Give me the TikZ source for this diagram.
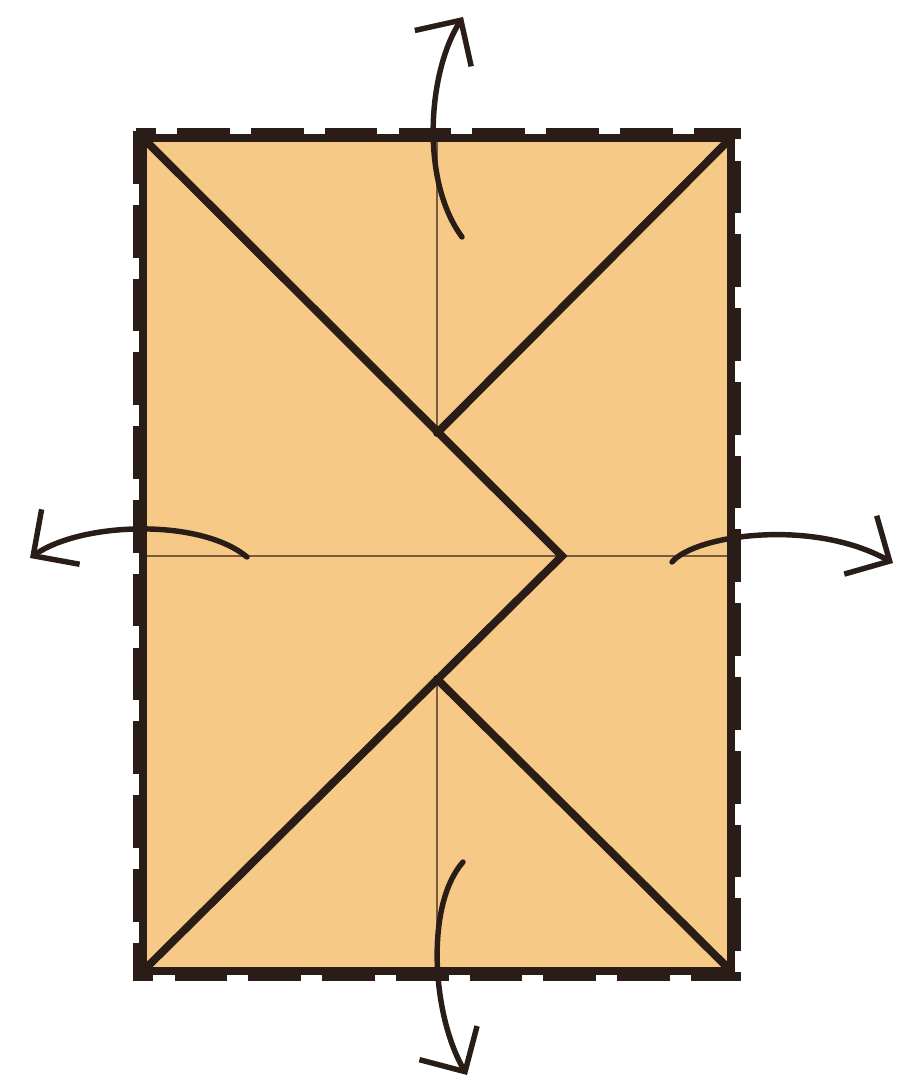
\documentclass[tikz,border=0pt]{standalone}
\usetikzlibrary{arrows.meta}

\definecolor{paper}{HTML}{F6CA86}
\definecolor{ink}{HTML}{2A1C16}
\definecolor{crease}{HTML}{7A5A3C}

\begin{document}
\begin{tikzpicture}[
    x=0.02cm, y=-0.02cm,
    sheet/.style={fill=paper, draw=ink, line width=4.5pt, line join=miter},
    cutline/.style={draw=ink, dash pattern=on 30pt off 12pt, line width=3.8pt},
    fold/.style={draw=crease, line width=1pt},
    edge/.style={draw=ink, line width=4.5pt, line cap=round, line join=miter},
    flap/.style={-{Straight Barb[length=19pt, width=38pt, line width=3.1pt]}, draw=ink, line width=3.1pt, line cap=round}
]
\useasboundingbox (0,0) rectangle (908,1091);

% Coordinates
\coordinate (tl) at (143,138);
\coordinate (tr) at (731,138);
\coordinate (br) at (731,971);
\coordinate (bl) at (143,971);
\coordinate (tip) at (562,556);
\coordinate (upper) at (437,433);
\coordinate (lower) at (437,679);
\coordinate (topmid) at (437,138);
\coordinate (botmid) at (437,971);
\coordinate (leftmid) at (143,556);
\coordinate (rightmid) at (731,556);

% Sheet
\draw[cutline] (136,131) rectangle (738,978);
\fill[paper] (tl) rectangle (br);

% Folds
\draw[fold] (topmid) -- (upper);
\draw[fold] (lower) -- (botmid);
\draw[fold] (leftmid) -- (rightmid);

% Edges
\draw[edge] (tl) -- (tip) -- (bl);
\draw[edge] (tr) -- (upper);
\draw[edge] (br) -- (lower);
\draw[sheet, fill=none] (tl) rectangle (br);

% Arrows
\coordinate (a1) at (462,237);
\coordinate (b1) at (463,17);
\coordinate (a2) at (247,557);
\coordinate (b2) at (30,558);
\coordinate (a3) at (672,562);
\coordinate (b3) at (893,563);
\coordinate (a4) at (463,862);
\coordinate (b4) at (467,1075);
\draw[flap] (a1) .. controls (420,180) and (428,72) .. (b1);
\draw[flap] (a2) .. controls (200,518) and (82,522) .. (b2);
\draw[flap] (a3) .. controls (695,535) and (812,518) .. (b3);
\draw[flap] (a4) .. controls (425,905) and (432,1015) .. (b4);

\end{tikzpicture}
\end{document}
